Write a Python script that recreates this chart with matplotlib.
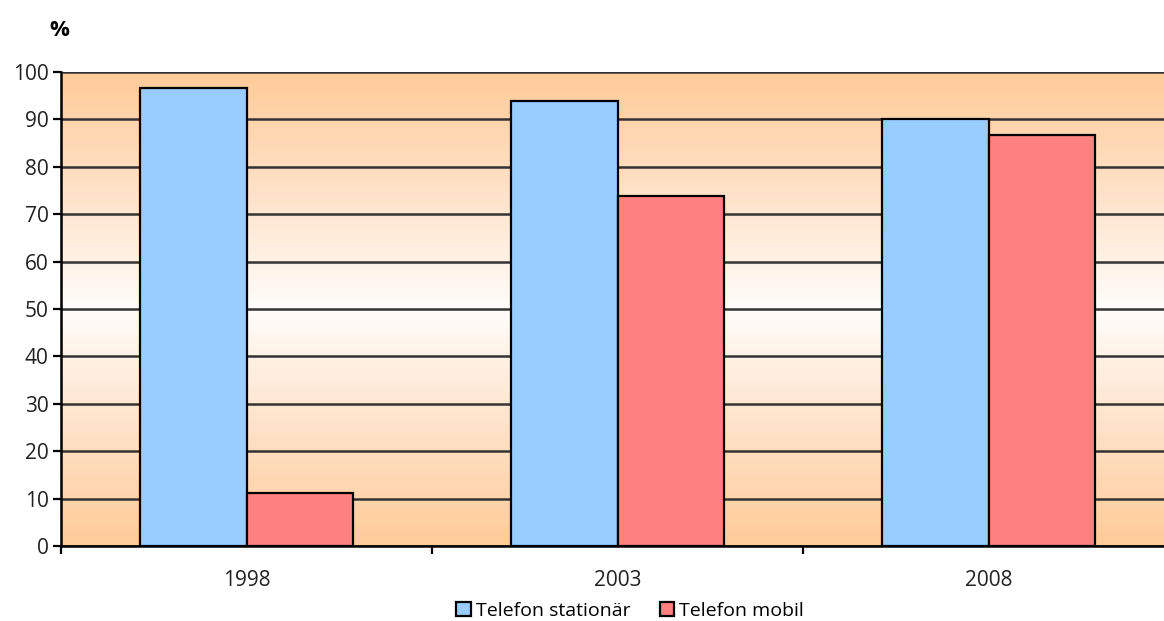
import numpy as np
import matplotlib.pyplot as plt
from matplotlib.colors import LinearSegmentedColormap
from matplotlib.patches import Patch

plt.rcParams['font.family'] = ['Open Sans', 'DejaVu Sans']

years = ["1998", "2003", "2008"]
stationar = [96.6, 93.9, 90.1]
mobil = [11.2, 73.8, 86.7]
series_names = ["Telefon stationär", "Telefon mobil"]

blue = "#99CCFF"
red = "#FF8080"

fig = plt.figure(figsize=(11.64, 6.21), dpi=100)
ax = fig.add_axes([61 / 1164, 75 / 621, 1113 / 1164, 474 / 621])

# orange -> near white -> orange background
bg = LinearSegmentedColormap.from_list("bg", ["#FECB98", "#FFE2C8", "#FFFDFA", "#FFE2C8", "#FECB98"])
grad = np.linspace(0, 1, 256).reshape(-1, 1)
ax.imshow(grad, cmap=bg, aspect="auto", extent=[0, 3, 0, 100], origin="lower", zorder=0)

x = np.arange(len(years)) + 0.5
w = 0.287
ax.bar(x - w / 2, stationar, w, color=blue, edgecolor="black", linewidth=1.6, zorder=3)
ax.bar(x + w / 2, mobil, w, color=red, edgecolor="black", linewidth=1.6, zorder=3)

ax.set_xlim(0, 3)
ax.set_ylim(0, 100)
ax.set_yticks(range(0, 101, 10))
ax.yaxis.grid(True, color="#333333", linewidth=1.8, zorder=1)
ax.set_axisbelow(True)

ax.set_xticks([0, 1, 2, 3])
ax.set_xticklabels([])
ax.set_xticks(x, minor=True)
ax.set_xticklabels(years, minor=True)
ax.tick_params(axis="x", which="minor", length=0, pad=17, labelsize=15, labelcolor="#222222")
ax.tick_params(axis="x", which="major", length=6, width=1.6, direction="out")
ax.tick_params(axis="y", length=6, width=1.6, direction="out", labelsize=15, labelcolor="#222222", pad=3)

for side in ["top", "right"]:
    ax.spines[side].set_visible(False)
for side in ["left", "bottom"]:
    ax.spines[side].set_linewidth(1.8)
    ax.spines[side].set_color("black")

fig.text(49 / 1164, 1 - 30 / 621, "%", fontsize=16, fontweight="bold", ha="left", va="center")

handles = [Patch(facecolor=blue, edgecolor="black", linewidth=1.6),
           Patch(facecolor=red, edgecolor="black", linewidth=1.6)]
fig.legend(handles, series_names, loc="center", bbox_to_anchor=(630 / 1164, 1 - 611 / 621),
           ncol=2, frameon=False, fontsize=14, handlelength=0.75, handleheight=0.75,
           handletextpad=0.25, columnspacing=1.5, borderpad=0.2)

fig.savefig("out.png", dpi=100)
